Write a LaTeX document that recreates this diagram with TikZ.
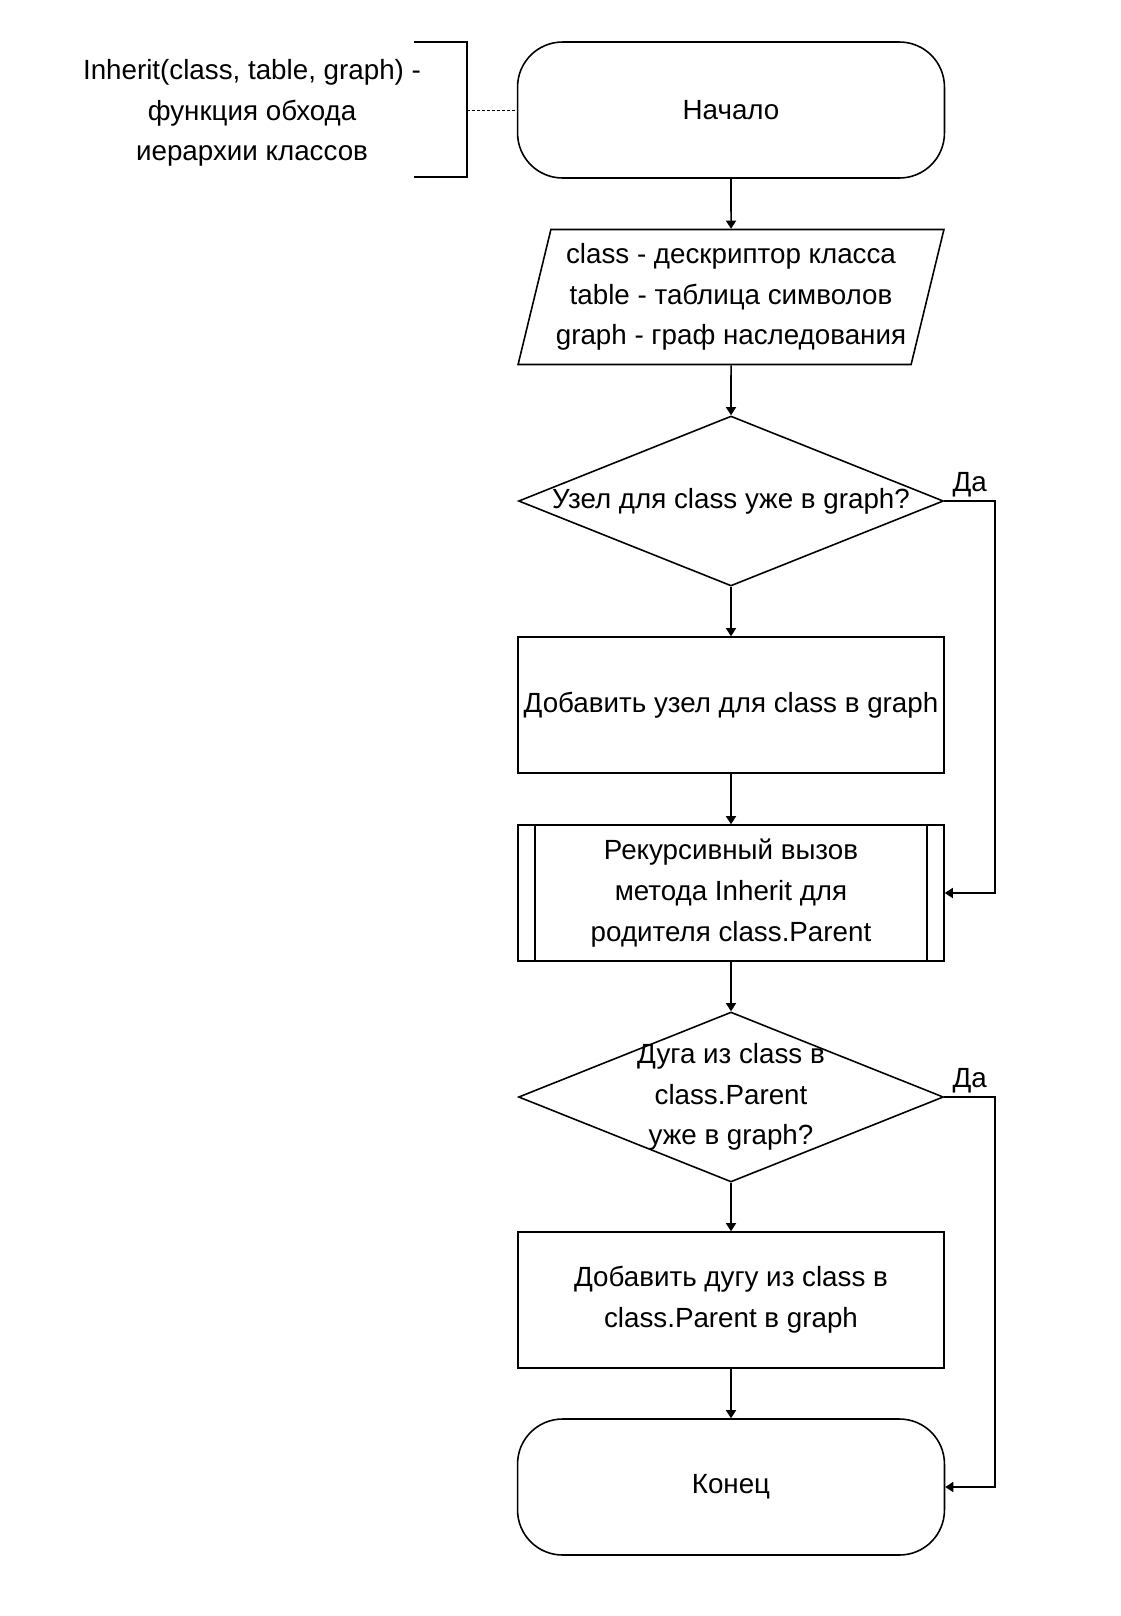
\documentclass[tikz,border=0pt]{standalone}
\usepackage{fontspec}
\setmainfont{Liberation Sans}
\usetikzlibrary{shapes.geometric,arrows.meta}

\begin{document}
\begin{tikzpicture}[x=0.02cm,y=-0.02cm,line width=0.9pt,
    font=\fontsize{15.8}{23.2}\selectfont,
    term/.style={draw,rounded corners=0.9cm,minimum width=8.54cm,minimum height=2.72cm},
    io/.style={draw,trapezium,trapezium left angle=75,trapezium right angle=105,
        trapezium stretches=true,minimum width=8.52cm,minimum height=2.7cm,inner xsep=0pt,align=center},
    decision/.style={draw,diamond,minimum width=8.5cm,minimum height=3.4cm,inner sep=0pt},
    proc/.style={draw,rectangle,minimum width=8.52cm,minimum height=2.72cm,inner xsep=2pt,align=center},
    subproc/.style={proc,path picture={
        \draw ([xshift=0.34cm]path picture bounding box.north west) -- ([xshift=0.34cm]path picture bounding box.south west)
              ([xshift=-0.34cm]path picture bounding box.north east) -- ([xshift=-0.34cm]path picture bounding box.south east);}},
    flow/.style={-{Triangle[length=0.16cm,width=0.2cm]}},
    yes/.style={above,pos=0.5,inner sep=2pt}]
    \useasboundingbox (0,0) rectangle (1121,1616);
    % comment to the function
    \node[align=center] (note) at (252,113) {Inherit(class, table, graph) -\\функция обхода\\иерархии классов};
    \coordinate (brace) at (467,110);
    \draw (414,42) -- (467,42) -- (467,177) -- (414,177);
    % main flow
    \node[term] (start) at (731,110) {Начало};
    \node[io] (input) at (731,297) {class - дескриптор класса\\table - таблица символов\\graph - граф наследования};
    \node[decision,label={center:Узел для class уже в graph?}] (check1) at (731,501) {};
    \node[proc] (addnode) at (731,705) {Добавить узел для class в graph};
    \node[subproc] (recur) at (731,893) {Рекурсивный вызов\\метода Inherit для\\родителя class.Parent};
    \node[decision,label={[align=center]center:Дуга из class в\\class.Parent\\уже в graph?}] (check2) at (731,1097) {};
    \node[proc] (addedge) at (731,1300) {Добавить дугу из class в\\class.Parent в graph};
    \node[term] (stop) at (731,1487) {Конец};
    \draw[dashed,line width=0.5pt,dash pattern=on 0.06cm off 0.04cm] (brace) -- (start.west);
    \draw[flow] (start) -- (input);
    \draw[flow] (input) -- (check1);
    \draw[flow] (check1) -- (addnode);
    \draw[flow] (addnode) -- (recur);
    \draw[flow] (recur) -- (check2);
    \draw[flow] (check2) -- (addedge);
    \draw[flow] (addedge) -- (stop);
    % yes branches
    \draw[flow] (check1.east) -- ++(51,0) node[yes] {Да} |- (recur.east);
    \draw[flow] (check2.east) -- ++(51,0) node[yes] {Да} |- (stop.east);
\end{tikzpicture}
\end{document}
